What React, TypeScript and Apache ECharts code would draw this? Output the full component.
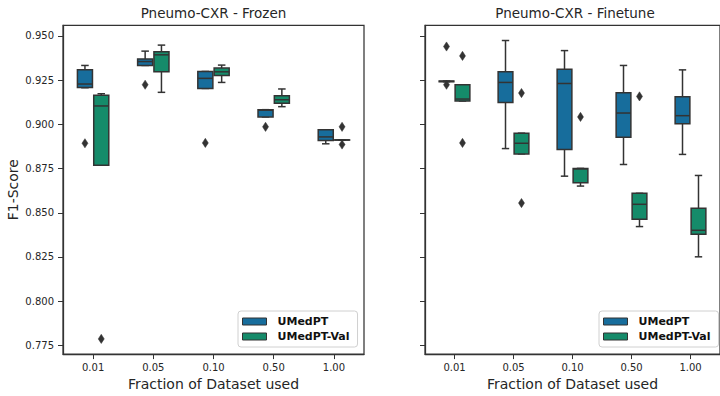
import { useEffect, useRef } from 'react';
import * as echarts from 'echarts';

// ---------- data ----------
const fractions = ['0.01', '0.05', '0.10', '0.50', '1.00'];
const yTicks = [0.775, 0.8, 0.825, 0.85, 0.875, 0.9, 0.925, 0.95];
const hues = ['UMedPT', 'UMedPT-Val'];

// [min whisker, q1, median, q3, max whisker] per fraction
const frozenUMedPT = [
  [0.9207, 0.9209, 0.9228, 0.9308, 0.9333],
  [0.9333, 0.9333, 0.9355, 0.937, 0.9414],
  [0.9203, 0.9203, 0.926, 0.9299, 0.9299],
  [0.9042, 0.9042, 0.908, 0.9083, 0.9083],
  [0.889, 0.8908, 0.8929, 0.8969, 0.8969],
];
const frozenVal = [
  [0.8769, 0.8769, 0.9104, 0.9164, 0.9173],
  [0.9181, 0.9297, 0.9393, 0.941, 0.9448],
  [0.9237, 0.9276, 0.9297, 0.9318, 0.9335],
  [0.91, 0.9119, 0.9139, 0.9162, 0.92],
  [0.8911, 0.8911, 0.8912, 0.8912, 0.8912],
];
const finetuneUMedPT = [
  [0.9241, 0.9241, 0.9243, 0.9245, 0.9245],
  [0.8863, 0.9123, 0.9237, 0.9297, 0.9474],
  [0.8707, 0.8858, 0.9231, 0.9312, 0.9417],
  [0.8773, 0.8927, 0.9064, 0.9179, 0.9333],
  [0.883, 0.9004, 0.9049, 0.9156, 0.9308],
];
const finetuneVal = [
  [0.9132, 0.9132, 0.9143, 0.9224, 0.9224],
  [0.8833, 0.8833, 0.8893, 0.895, 0.895],
  [0.8651, 0.867, 0.8748, 0.8751, 0.8751],
  [0.8422, 0.8463, 0.8548, 0.861, 0.861],
  [0.8251, 0.8379, 0.8401, 0.8525, 0.8711],
];

// outliers: [fraction index, value, hue index]
const frozenOutliers = [
  [0, 0.8893, 0],
  [1, 0.9224, 0],
  [2, 0.8895, 0],
  [3, 0.8986, 0],
  [0, 0.7787, 1],
  [4, 0.8986, 1],
  [4, 0.8886, 1],
];
const finetuneOutliers = [
  [0, 0.944, 0],
  [0, 0.9224, 0],
  [0, 0.9387, 1],
  [0, 0.8895, 1],
  [1, 0.9177, 1],
  [1, 0.8555, 1],
  [2, 0.9042, 1],
  [3, 0.9158, 1],
];

// ---------- style ----------
const BLUE = '#176d9c';
const GREEN = '#158b6a';
const EDGE = '#333333';
const TEXT = '#262626';
const FONT = 'DejaVu Sans';
const OFFSET = 0.1355; // box centre offset, fraction of band
const HALF = 0.125; // half box width, fraction of band

function boxRender(sign: number, fill: string) {
  return (_params: any, api: any) => {
    const cat = api.value(0);
    const band = api.size([1, 0])[0];
    const half = band * HALF;
    const cx = api.coord([cat, api.value(3)])[0] + sign * OFFSET * band;
    const y = (i: number) => api.coord([cat, api.value(i)])[1];
    const yMin = y(1), yQ1 = y(2), yMed = y(3), yQ3 = y(4), yMax = y(5);
    const cap = half * 0.5;
    const line = (x1: number, y1: number, x2: number, y2: number) => ({
      type: 'line',
      shape: { x1, y1, x2, y2 },
      style: { stroke: EDGE, lineWidth: 1.5 },
    });
    return {
      type: 'group',
      children: [
        line(cx, yMax, cx, yQ3),
        line(cx, yQ1, cx, yMin),
        line(cx - cap, yMax, cx + cap, yMax),
        line(cx - cap, yMin, cx + cap, yMin),
        {
          type: 'rect',
          shape: { x: cx - half, y: yQ3, width: half * 2, height: Math.max(yQ1 - yQ3, 0.01) },
          style: { fill, stroke: EDGE, lineWidth: 1.5 },
        },
        line(cx - half, yMed, cx + half, yMed),
      ],
    };
  };
}

function outlierRender(_params: any, api: any) {
  const cat = api.value(0);
  const hue = api.value(2);
  const band = api.size([1, 0])[0];
  const p = api.coord([cat, api.value(1)]);
  const cx = p[0] + (hue === 0 ? -1 : 1) * OFFSET * band;
  const cy = p[1];
  return {
    type: 'polygon',
    shape: {
      points: [
        [cx, cy - 4.6],
        [cx + 3, cy],
        [cx, cy + 4.6],
        [cx - 3, cy],
      ],
    },
    style: { fill: EDGE, stroke: EDGE, lineWidth: 0.5 },
  };
}

const boxData = (arr: number[][]) => arr.map((r, i) => [i, ...r]);

function boxSeries(name: string, idx: number, arr: number[][], sign: number, color: string) {
  return {
    type: 'custom',
    name,
    xAxisIndex: idx,
    yAxisIndex: idx,
    renderItem: boxRender(sign, color),
    itemStyle: { color, borderColor: EDGE, borderWidth: 1 },
    encode: { x: 0, y: [1, 2, 3, 4, 5] },
    data: boxData(arr),
    z: 3,
  };
}

function legendFor(left: number) {
  return {
    orient: 'vertical',
    left,
    top: 311,
    itemWidth: 24,
    itemHeight: 7,
    itemGap: 2,
    padding: [4, 8, 4, 4],
    borderColor: '#d0d0d0',
    borderWidth: 1,
    borderRadius: 3,
    backgroundColor: '#ffffff',
    selectedMode: false,
    textStyle: {
      fontFamily: FONT,
      fontWeight: 'bold',
      fontSize: 11,
      lineHeight: 13,
      color: '#111',
      padding: [0, 0, 0, 6],
    },
    data: [
      { name: hues[0], icon: 'rect', itemStyle: { color: BLUE, borderColor: EDGE, borderWidth: 1 } },
      { name: hues[1], icon: 'rect', itemStyle: { color: GREEN, borderColor: EDGE, borderWidth: 1 } },
    ],
  };
}

function xAxisFor(idx: number) {
  return {
    type: 'category',
    gridIndex: idx,
    data: fractions,
    boundaryGap: true,
    name: 'Fraction of Dataset used',
    nameLocation: 'middle',
    nameGap: 21,
    nameTextStyle: { fontFamily: FONT, fontSize: 14, color: TEXT },
    axisLine: { show: true, lineStyle: { color: EDGE, width: 1.25 } },
    axisTick: { show: true, alignWithLabel: true, length: 5, lineStyle: { color: EDGE, width: 1 } },
    axisLabel: { fontFamily: FONT, fontSize: 10, color: TEXT, margin: 8 },
    splitLine: { show: false },
  };
}

function yAxisFor(idx: number) {
  return {
    type: 'value',
    gridIndex: idx,
    min: 0.7701,
    max: 0.956,
    name: idx === 0 ? 'F1-Score' : '',
    nameLocation: 'middle',
    nameGap: 43,
    nameTextStyle: { fontFamily: FONT, fontSize: 14, color: TEXT },
    axisLine: { show: true, lineStyle: { color: EDGE, width: 1.25 } },
    axisTick: { show: true, length: 5, customValues: yTicks, lineStyle: { color: EDGE, width: 1 } },
    axisLabel: {
      show: idx === 0,
      customValues: yTicks,
      fontFamily: FONT,
      fontSize: 10,
      color: TEXT,
      margin: 9,
      formatter: (v: number) => v.toFixed(3),
    },
    splitLine: { show: false },
  };
}

export default function App() {
  const ref = useRef<HTMLDivElement>(null);
  useEffect(() => {
    if (!ref.current) return;
    const chart = echarts.init(ref.current, undefined, { renderer: 'svg' });
    chart.setOption({
      animation: false,
      backgroundColor: '#ffffff',
      title: [
        {
          text: 'Pneumo-CXR - Frozen',
          left: 213.5,
          top: 6,
          padding: 0,
          textAlign: 'center',
          textStyle: { fontFamily: FONT, fontSize: 13.5, fontWeight: 'normal', color: TEXT },
        },
        {
          text: 'Pneumo-CXR - Finetune',
          left: 575,
          top: 6,
          padding: 0,
          textAlign: 'center',
          textStyle: { fontFamily: FONT, fontSize: 13.5, fontWeight: 'normal', color: TEXT },
        },
      ],
      grid: [
        { left: 63, right: 356, top: 25.3, bottom: 40.7, show: true, borderColor: EDGE, borderWidth: 1.25, backgroundColor: 'transparent' },
        { left: 425, right: -5, top: 25.3, bottom: 40.7, show: true, borderColor: EDGE, borderWidth: 1.25, backgroundColor: 'transparent' },
      ],
      legend: [legendFor(238), legendFor(599)],
      xAxis: [xAxisFor(0), xAxisFor(1)],
      yAxis: [yAxisFor(0), yAxisFor(1)],
      series: [
        boxSeries(hues[0], 0, frozenUMedPT, -1, BLUE),
        boxSeries(hues[1], 0, frozenVal, 1, GREEN),
        boxSeries(hues[0], 1, finetuneUMedPT, -1, BLUE),
        boxSeries(hues[1], 1, finetuneVal, 1, GREEN),
        {
          type: 'custom',
          name: 'outliers-frozen',
          xAxisIndex: 0,
          yAxisIndex: 0,
          renderItem: outlierRender,
          encode: { x: 0, y: 1 },
          data: frozenOutliers,
          z: 4,
        },
        {
          type: 'custom',
          name: 'outliers-finetune',
          xAxisIndex: 1,
          yAxisIndex: 1,
          renderItem: outlierRender,
          encode: { x: 0, y: 1 },
          data: finetuneOutliers,
          z: 4,
        },
      ],
    });
    return () => chart.dispose();
  }, []);
  return (
    <div
      ref={ref}
      style={{ position: 'fixed', left: 0, top: 0, width: 720, height: 396, background: '#fff' }}
    />
  );
}
